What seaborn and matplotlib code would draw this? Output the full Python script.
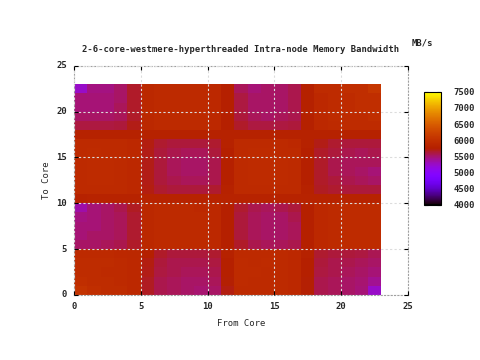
import matplotlib
matplotlib.use("Agg")
import matplotlib.pyplot as plt
import seaborn as sns
import numpy as np

# MB/s per quad, row 0 = "To Core" 0 (bottom), column 0 = "From Core" 0
bandwidth = [
    [6050, 5980, 5950, 5950, 5900, 5680, 5580, 5550, 5520, 5500, 5520, 5720, 5920, 5920, 5920, 5920, 5900, 5740, 5580, 5550, 5520, 5480, 5250],
    [5980, 5950, 5950, 5920, 5900, 5680, 5580, 5550, 5520, 5520, 5550, 5740, 5940, 5920, 5920, 5920, 5900, 5740, 5580, 5550, 5520, 5500, 5420],
    [5950, 5950, 5920, 5920, 5900, 5700, 5600, 5580, 5550, 5550, 5580, 5750, 5940, 5940, 5920, 5920, 5900, 5750, 5600, 5580, 5550, 5520, 5480],
    [5950, 5950, 5950, 5920, 5900, 5720, 5620, 5580, 5580, 5580, 5600, 5760, 5940, 5920, 5940, 5920, 5900, 5760, 5620, 5580, 5580, 5550, 5520],
    [5920, 5920, 5920, 5900, 5880, 5750, 5660, 5620, 5620, 5620, 5650, 5780, 5920, 5920, 5920, 5920, 5900, 5780, 5650, 5620, 5620, 5600, 5560],
    [5520, 5520, 5550, 5580, 5660, 5880, 5920, 5920, 5920, 5920, 5900, 5760, 5660, 5580, 5550, 5550, 5580, 5760, 5900, 5920, 5940, 5940, 5940],
    [5480, 5520, 5520, 5550, 5650, 5880, 5920, 5920, 5920, 5920, 5900, 5750, 5620, 5550, 5520, 5520, 5550, 5750, 5900, 5920, 5940, 5940, 5940],
    [5480, 5480, 5520, 5550, 5650, 5880, 5920, 5920, 5920, 5920, 5900, 5750, 5620, 5550, 5520, 5520, 5550, 5750, 5900, 5920, 5940, 5940, 5940],
    [5450, 5480, 5520, 5550, 5650, 5880, 5920, 5920, 5920, 5920, 5900, 5750, 5620, 5550, 5520, 5520, 5580, 5750, 5900, 5920, 5940, 5940, 5940],
    [5350, 5480, 5520, 5580, 5680, 5880, 5920, 5920, 5920, 5900, 5900, 5760, 5650, 5580, 5550, 5580, 5620, 5760, 5900, 5920, 5940, 5940, 5940],
    [5780, 5800, 5800, 5800, 5800, 5800, 5800, 5800, 5800, 5800, 5800, 5800, 5800, 5800, 5800, 5800, 5800, 5800, 5800, 5800, 5800, 5800, 5800],
    [5920, 5920, 5920, 5920, 5900, 5720, 5650, 5620, 5620, 5620, 5650, 5780, 5920, 5920, 5920, 5920, 5920, 5780, 5680, 5650, 5620, 5620, 5620],
    [5920, 5940, 5940, 5920, 5900, 5700, 5620, 5580, 5550, 5550, 5580, 5760, 5920, 5940, 5940, 5940, 5920, 5760, 5660, 5620, 5580, 5550, 5520],
    [5920, 5940, 5940, 5920, 5900, 5700, 5620, 5550, 5520, 5520, 5580, 5760, 5920, 5940, 5940, 5940, 5920, 5760, 5660, 5580, 5550, 5520, 5480],
    [5920, 5940, 5940, 5920, 5900, 5700, 5620, 5550, 5520, 5520, 5580, 5760, 5920, 5940, 5940, 5940, 5920, 5760, 5660, 5580, 5550, 5550, 5550],
    [5920, 5940, 5920, 5920, 5900, 5700, 5620, 5580, 5550, 5550, 5620, 5760, 5920, 5940, 5940, 5920, 5920, 5760, 5660, 5620, 5580, 5550, 5580],
    [5920, 5920, 5920, 5920, 5900, 5720, 5650, 5620, 5620, 5620, 5650, 5780, 5920, 5920, 5920, 5920, 5900, 5780, 5700, 5650, 5620, 5620, 5620],
    [5780, 5780, 5780, 5780, 5780, 5780, 5780, 5780, 5780, 5780, 5780, 5780, 5780, 5780, 5780, 5780, 5780, 5780, 5780, 5780, 5780, 5780, 5780],
    [5600, 5600, 5600, 5620, 5700, 5880, 5920, 5920, 5920, 5920, 5900, 5760, 5660, 5600, 5600, 5600, 5620, 5770, 5900, 5920, 5940, 5940, 5940],
    [5520, 5520, 5520, 5550, 5660, 5880, 5920, 5920, 5920, 5920, 5900, 5760, 5620, 5550, 5520, 5550, 5580, 5770, 5900, 5940, 5940, 5940, 5970],
    [5480, 5480, 5480, 5550, 5660, 5880, 5920, 5920, 5920, 5920, 5900, 5760, 5600, 5520, 5520, 5520, 5580, 5770, 5900, 5940, 5940, 5970, 5970],
    [5480, 5480, 5480, 5520, 5660, 5880, 5920, 5920, 5920, 5920, 5900, 5760, 5600, 5520, 5520, 5520, 5580, 5770, 5900, 5940, 5940, 5970, 5970],
    [5250, 5450, 5450, 5520, 5660, 5880, 5920, 5920, 5920, 5920, 5900, 5760, 5550, 5480, 5520, 5520, 5580, 5770, 5940, 5940, 5970, 5970, 6080],
]
axis_ticks = [0, 5, 10, 15, 20, 25]
cbar_ticks = [4000, 4500, 5000, 5500, 6000, 6500, 7000, 7500]

sns.set_style("white")
plt.rcParams['font.family'] = ['DejaVu Sans Mono', 'DejaVu Sans']
plt.rcParams['font.weight'] = 'bold'
plt.rcParams['font.size'] = 6.4

fig = plt.figure(figsize=(4.8, 3.6), dpi=100)
ax = fig.add_axes([0.154, 0.181, 0.696, 0.636])
cax = fig.add_axes([0.883, 0.431, 0.035, 0.314])

sns.heatmap(np.array(bandwidth), ax=ax, cbar_ax=cax, cmap='gnuplot',
            vmin=4000, vmax=7500, linewidths=0)

ax.set_xlim(0, 25)
ax.set_ylim(0, 25)
ax.set_xticks(axis_ticks)
ax.set_yticks(axis_ticks)
ax.set_xticklabels([str(t) for t in axis_ticks], rotation=0)
ax.set_yticklabels([str(t) for t in axis_ticks], rotation=0)
ax.tick_params(direction='in', length=3, width=0.8, color='black',
               top=True, right=True, bottom=True, left=True, pad=5)
for s in ax.spines.values():
    s.set_visible(True)
    s.set_color('#a0a0a0')
    s.set_linestyle((0, (1, 2)))
    s.set_linewidth(0.8)
ax.set_axisbelow(False)
ax.grid(True, color='#dcdcdc', linestyle=(0, (2, 2)), linewidth=0.8)

ax.set_xlabel('From Core', labelpad=6)
ax.set_ylabel('To Core', labelpad=4)
ax.set_title('2-6-core-westmere-hyperthreaded Intra-node Memory Bandwidth',
             fontsize=6.4, fontweight='bold', pad=10)

cbar = ax.collections[0].colorbar
cbar.set_ticks(cbar_ticks)
cbar.set_ticklabels([str(t) for t in cbar_ticks])
cbar.outline.set_edgecolor('black')
cbar.outline.set_linewidth(0.8)
cax.tick_params(direction='in', length=3, width=0.8, left=True, right=True,
                pad=9)
fig.text(0.858, 0.875, 'MB/s', fontsize=6.4, fontweight='bold')

fig.savefig('out.png', dpi=100)
